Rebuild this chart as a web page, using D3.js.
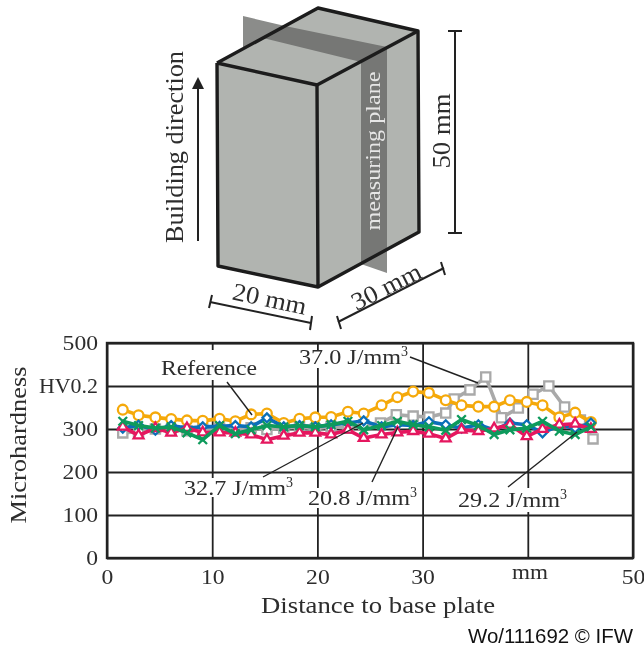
<!DOCTYPE html>
<html>
<head>
<meta charset="utf-8">
<script src="https://cdn.jsdelivr.net/npm/d3@7"></script>
<style>
  html, body { margin: 0; background: #fff; overflow: hidden; }
  svg { display: block; filter: blur(0.45px); }
  text { font-family: "Liberation Serif", serif; fill: #2d2d2d; }
</style>
</head>
<body>
<div id="chart"></div>
<script>
// distance to base plate (mm)
const distance = [1.5, 3.0, 4.6, 6.1, 7.6, 9.1, 10.7, 12.2, 13.7, 15.2, 16.8, 18.3, 19.8, 21.3, 22.9, 24.4,
  26.1, 27.6, 29.1, 30.6, 32.2, 33.7, 35.3, 36.8, 38.3, 39.9, 41.4, 43.0, 44.5, 46.0];
const distanceGrey = [1.5, 3.0, 4.6, 6.1, 7.6, 9.1, 10.7, 12.2, 13.7, 15.2, 16.8, 18.3, 19.8, 21.3, 22.9, 24.4,
  26.0, 27.5, 29.1, 30.6, 32.2, 33.0, 34.5, 36.0, 37.5, 39.1, 40.5, 42.0, 43.5, 45.0, 46.2];

// microhardness readings (HV0.2)
const reference = [345, 332, 327, 323, 320, 319, 324, 318, 334, 336, 314, 324, 327, 328, 340, 336,
  355, 374, 387, 384, 367, 355, 352, 352, 367, 363, 355, 327, 338, 316];
const e327 = [302, 309, 297, 308, 302, 305, 306, 308, 305, 326, 305, 308, 305, 310, 314, 319,
  305, 310, 308, 317, 310, 302, 310, 298, 314, 310, 291, 308, 302, 314];
const e208 = [305, 285, 302, 291, 302, 292, 292, 291, 287, 275, 284, 291, 291, 287, 298, 279,
  287, 292, 295, 289, 278, 298, 295, 301, 310, 283, 300, 310, 312, 300];
const e292 = [318, 308, 302, 305, 291, 275, 308, 289, 298, 308, 305, 308, 305, 310, 318, 298,
  308, 318, 310, 305, 297, 322, 308, 287, 298, 302, 318, 295, 287, 305];
const e370 = [291, 294, 300, 299, 296, 300, 302, 300, 303, 299, 302, 305, 300, 306, 302, 310, 314,
  333, 330, 328, 337, 370, 391, 421, 326, 349, 381, 400, 351, 321, 277];

const xTickValues = [0, 10, 20, 30, 40, 50];
const xTickLabels = ["0", "10", "20", "30", "", "50"];
const yTickValues = [0, 100, 200, 300, 400, 500];
const yTickLabels = ["0", "100", "200", "300", "HV0.2", "500"];

const width = 644;
const height = 649;
const ink = "#222";

const svg = d3.select("#chart").append("svg")
  .attr("width", width)
  .attr("height", height)
  .attr("viewBox", [0, 0, width, height]);

// ---- specimen sketch ----
const sketch = svg.append("g");
const poly = (pts, fill) => sketch.append("polygon")
  .attr("points", pts.map(p => p.join(",")).join(" "))
  .attr("fill", fill);

// plane parts sticking out of the block
poly([[243, 16], [285, 26], [243, 49]], "#8b8c8a");
poly([[361, 264], [387, 250], [387, 273]], "#8b8c8a");
// block faces
const faceGrey = "#b1b4b0";
poly([[217, 63], [317, 85], [318, 287], [218, 266]], faceGrey);
poly([[317, 85], [418, 31], [419, 232], [318, 287]], faceGrey);
poly([[217, 63], [318, 8], [418, 31], [317, 85]], faceGrey);
// plane inside the block
poly([[263, 38], [285, 26], [387, 47], [361, 62]], "#767775");
poly([[361, 62], [387, 47], [387, 250], [361, 264]], "#767775");

const edges = [
  [[217, 63], [317, 85], [318, 287], [218, 266], [217, 63]],
  [[217, 63], [318, 8], [418, 31], [419, 232], [318, 287]],
  [[317, 85], [418, 31]]
];
sketch.selectAll(".edge").data(edges).join("path")
  .attr("class", "edge")
  .attr("d", d3.line())
  .attr("fill", "none")
  .attr("stroke", "#1c1c1c")
  .attr("stroke-width", 3.4)
  .attr("stroke-linejoin", "round");

// dimension brackets
const brackets = [
  [[198, 241], [198, 88]],
  [[455, 31], [455, 233]], [[448, 31], [462, 31]], [[448, 233], [462, 233]],
  [[210, 302], [311, 323]], [[212, 295], [209, 308]], [[312, 316], [310, 330]],
  [[338, 322], [444, 268]], [[337, 316], [341, 329]], [[441, 262], [445, 275]]
];
sketch.selectAll(".bracket").data(brackets).join("path")
  .attr("class", "bracket")
  .attr("d", d3.line())
  .attr("stroke", "#222")
  .attr("stroke-width", 2);
poly([[198, 77], [192, 89], [204, 89]], "#222");

function label(g, txt, x, y, size, len, opts = {}) {
  const t = g.append("text")
    .attr("font-size", size)
    .attr("text-anchor", "middle")
    .attr("transform", `translate(${x},${y}) rotate(${opts.rotate || 0})`)
    .attr("textLength", len)
    .attr("lengthAdjust", "spacingAndGlyphs")
    .text(txt);
  if (opts.fill) t.style("fill", opts.fill);
  return t;
}

label(sketch, "Building direction", 183, 147, 25, 192, { rotate: -90 });
label(sketch, "measuring plane", 380, 151, 22, 159, { rotate: -90, fill: "#e6e6e6" });
label(sketch, "50 mm", 450, 131, 25, 75, { rotate: -90 });
label(sketch, "20 mm", 268, 307, 25, 75, { rotate: 12 });
label(sketch, "30 mm", 390, 294, 25, 75, { rotate: -27 });

// ---- hardness chart ----
const x = d3.scaleLinear().domain([0, 50]).range([107, 633]);
const y = d3.scaleLinear().domain([0, 500]).range([558, 343]);

const chart = svg.append("g");

const xAxis = chart.append("g")
  .attr("transform", `translate(0,${y(0)})`)
  .call(d3.axisBottom(x)
    .tickValues(xTickValues)
    .tickSize(y(500) - y(0))
    .tickPadding(11)
    .tickFormat((d, i) => xTickLabels[i]));
const yAxis = chart.append("g")
  .attr("transform", `translate(${x(0)},0)`)
  .call(d3.axisLeft(y)
    .tickValues(yTickValues)
    .tickSize(x(0) - x(50))
    .tickPadding(9)
    .tickFormat((d, i) => yTickLabels[i]));

for (const ax of [xAxis, yAxis]) {
  ax.select(".domain").remove();
  ax.selectAll("line").attr("stroke", ink).attr("stroke-width", 1.8);
  ax.selectAll("text")
    .attr("font-size", 21)
    .attr("textLength", (d, i, n) => n[i].textContent.length * 11.8)
    .attr("lengthAdjust", "spacingAndGlyphs")
    .style("font-family", '"Liberation Serif", serif')
    .style("fill", "#2d2d2d");
}

chart.append("rect")
  .attr("x", x(0))
  .attr("y", y(500))
  .attr("width", x(50) - x(0))
  .attr("height", y(0) - y(500))
  .attr("fill", "none")
  .attr("stroke", ink)
  .attr("stroke-width", 2.4);

// white boxes that break the grid behind the labels
const labelBoxes = [
  [160, 350, 98, 30], [297, 350, 114, 18],
  [183, 478, 113, 19], [306, 488, 116, 20], [456, 488, 116, 24]
];
chart.selectAll(".box").data(labelBoxes).join("rect")
  .attr("class", "box")
  .attr("x", d => d[0]).attr("y", d => d[1])
  .attr("width", d => d[2]).attr("height", d => d[3])
  .attr("fill", "#fff");

const series = [
  { xs: distanceGrey, ys: e370, color: "#a9a9a9", symbol: d3.symbolSquare, size: 85 },
  { xs: distance, ys: reference, color: "#f5a90a", symbol: d3.symbolCircle, size: 75 },
  { xs: distance, ys: e327, color: "#0b6fb8", symbol: d3.symbolDiamond2, size: 50 },
  { xs: distance, ys: e208, color: "#e5175f", symbol: d3.symbolTriangle, size: 42 },
  { xs: distance, ys: e292, color: "#0e9a5c", symbol: d3.symbolTimes, size: 50 }
];

const line = d3.line().x(d => x(d[0])).y(d => y(d[1]));

series.forEach(s => {
  const pts = d3.zip(s.xs, s.ys);
  const g = chart.append("g");
  g.append("path")
    .datum(pts)
    .attr("d", line)
    .attr("fill", "none")
    .attr("stroke", s.color)
    .attr("stroke-width", 3.6);
  g.selectAll("path.mark").data(pts).join("path")
    .attr("class", "mark")
    .attr("transform", d => `translate(${x(d[0])},${y(d[1])})`)
    .attr("d", d3.symbol(s.symbol, s.size))
    .attr("fill", s.symbol === d3.symbolTimes ? "none" : "#fff")
    .attr("stroke", s.color)
    .attr("stroke-width", 2.3);
});

// leader lines
const leaders = [
  [[227, 382], [252, 415]],
  [[410, 357], [478, 383]],
  [[263, 477], [363, 423]],
  [[372, 482], [398, 427]],
  [[508, 487], [577, 432]]
];
chart.selectAll(".leader").data(leaders).join("path")
  .attr("class", "leader")
  .attr("d", d3.line())
  .attr("stroke", "#222")
  .attr("stroke-width", 1.4);

function energy(txt, xLeft, baseline) {
  const t = chart.append("text")
    .attr("x", xLeft)
    .attr("y", baseline)
    .attr("font-size", 21);
  t.append("tspan").attr("textLength", 102).attr("lengthAdjust", "spacingAndGlyphs").text(txt);
  t.append("tspan").attr("font-size", 14).attr("dy", -8).text("3");
}
chart.append("text").attr("x", 161).attr("y", 375).attr("font-size", 21)
  .attr("textLength", 96).attr("lengthAdjust", "spacingAndGlyphs").text("Reference");
energy("37.0 J/mm", 299, 364);
energy("32.7 J/mm", 184, 495);
energy("20.8 J/mm", 308, 505);
energy("29.2 J/mm", 458, 507);

chart.append("text").attr("x", 530).attr("y", 579).attr("font-size", 21)
  .attr("text-anchor", "middle").attr("textLength", 36)
  .attr("lengthAdjust", "spacingAndGlyphs").text("mm");
chart.append("text").attr("x", 378).attr("y", 613).attr("font-size", 23)
  .attr("text-anchor", "middle").attr("textLength", 234)
  .attr("lengthAdjust", "spacingAndGlyphs").text("Distance to base plate");
chart.append("text")
  .attr("transform", "translate(26,445) rotate(-90)")
  .attr("font-size", 23)
  .attr("text-anchor", "middle").attr("textLength", 157)
  .attr("lengthAdjust", "spacingAndGlyphs").text("Microhardness");

chart.append("text").attr("x", 633).attr("y", 643).attr("font-size", 20)
  .attr("text-anchor", "end").attr("textLength", 165)
  .attr("lengthAdjust", "spacingAndGlyphs")
  .style("font-family", '"Liberation Sans", sans-serif')
  .style("fill", "#111")
  .text("Wo/111692 © IFW");
</script>
</body>
</html>
